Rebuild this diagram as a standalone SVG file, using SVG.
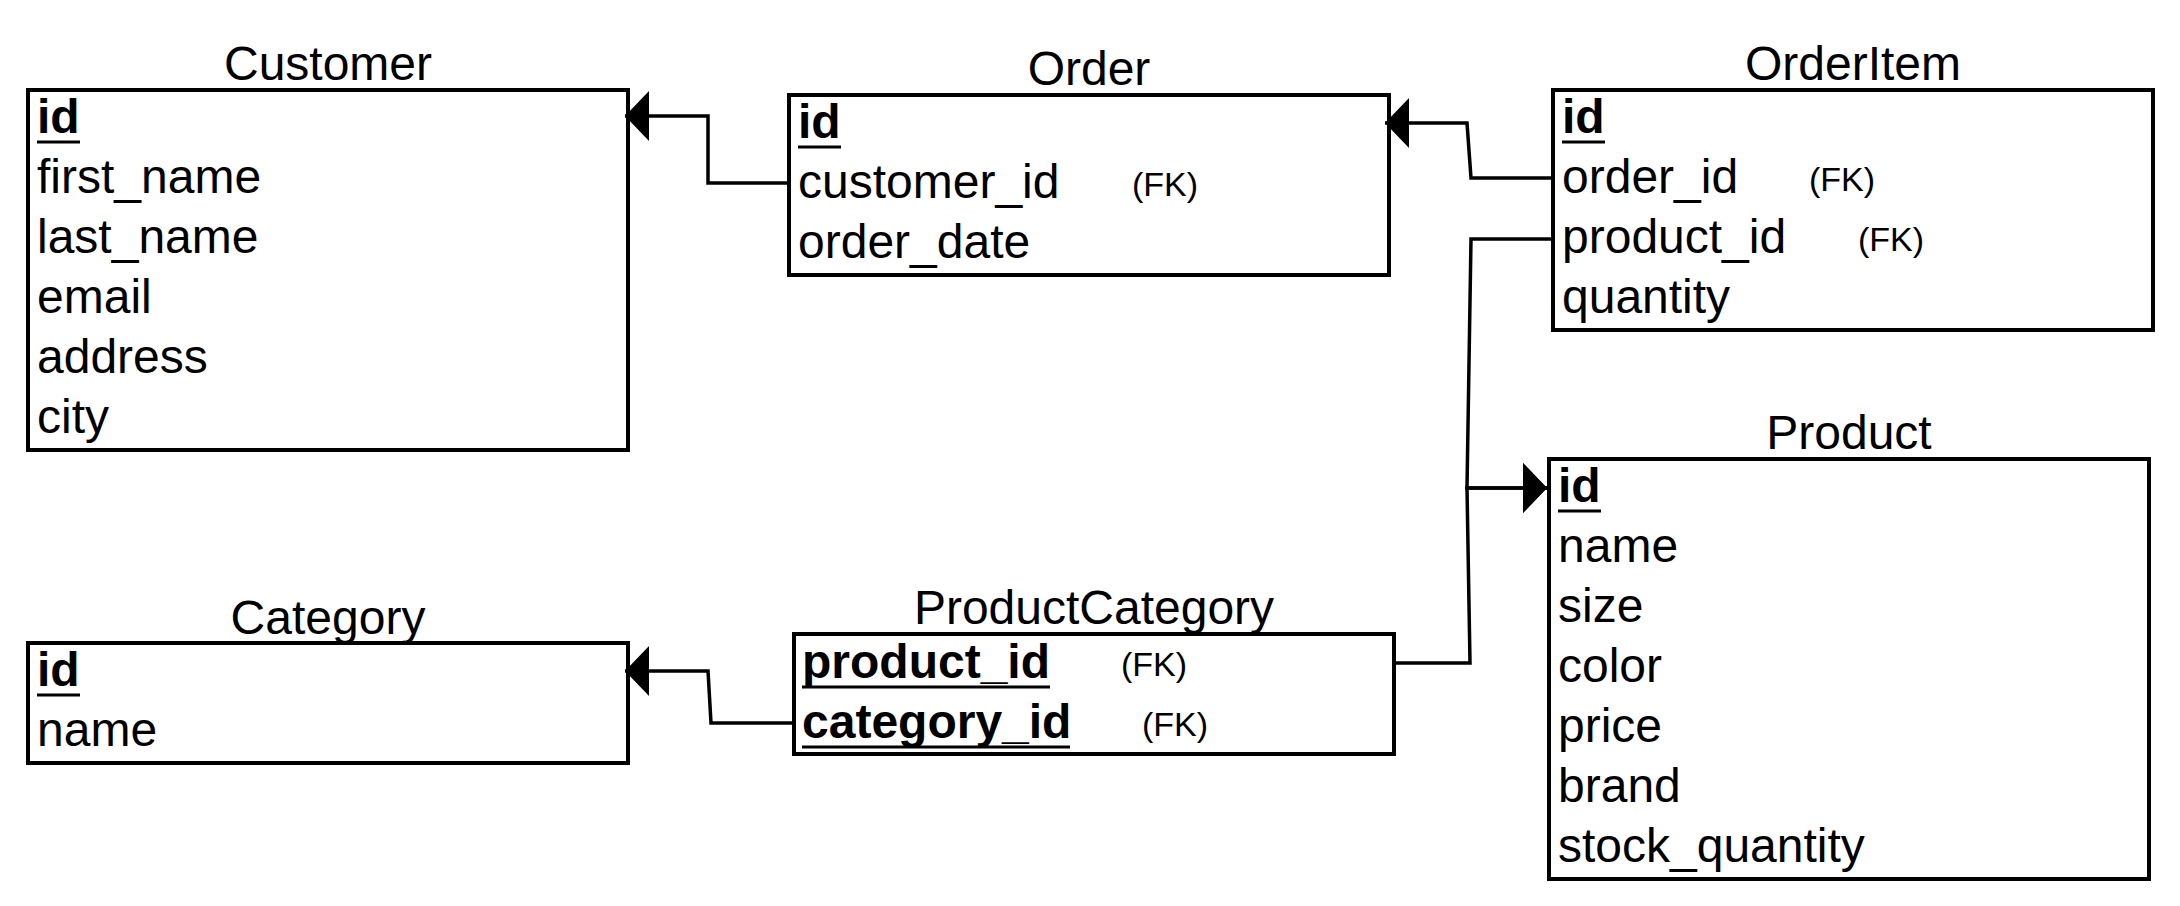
<svg xmlns="http://www.w3.org/2000/svg" width="2180" height="906" viewBox="0 0 2180 906">
<style>
.box{fill:#fff;stroke:#000;stroke-width:4}
.t{font-family:"Liberation Sans",Arial,Helvetica,sans-serif;font-size:48px;fill:#000}
.title{text-anchor:middle}
.pk{font-weight:bold}
.fk{font-family:"Liberation Sans",Arial,Helvetica,sans-serif;font-size:34px;fill:#000}
.ul{stroke:#000;stroke-width:3}
.conn{fill:none;stroke:#000;stroke-width:3.5;marker-end:url(#arr)}
</style>
<defs>
<marker id="arr" markerUnits="userSpaceOnUse" markerWidth="26" markerHeight="52" refX="24" refY="25" orient="auto">
<path d="M0,0 L24,25 L0,50 Z" fill="#000"/>
</marker>
</defs>
<rect width="2180" height="906" fill="#fff"/>

<g id="Customer">
<text class="t title" x="328" y="80">Customer</text>
<rect class="box" x="28" y="90" width="600" height="360"/>
<text class="t pk" x="37" y="133">id</text>
<line class="ul" x1="37" y1="142" x2="80" y2="142"/>
<text class="t" x="37" y="193">first_name</text>
<text class="t" x="37" y="253">last_name</text>
<text class="t" x="37" y="313">email</text>
<text class="t" x="37" y="373">address</text>
<text class="t" x="37" y="433">city</text>
</g>

<g id="Order">
<text class="t title" x="1089" y="85">Order</text>
<rect class="box" x="789" y="95" width="600" height="180"/>
<text class="t pk" x="798" y="138">id</text>
<line class="ul" x1="798" y1="147" x2="841" y2="147"/>
<text class="t" x="798" y="198">customer_id</text>
<text class="fk" x="1132" y="196">(FK)</text>
<text class="t" x="798" y="258">order_date</text>
</g>

<g id="OrderItem">
<text class="t title" x="1853" y="80">OrderItem</text>
<rect class="box" x="1553" y="90" width="600" height="240"/>
<text class="t pk" x="1562" y="133">id</text>
<line class="ul" x1="1562" y1="142" x2="1605" y2="142"/>
<text class="t" x="1562" y="193">order_id</text>
<text class="fk" x="1809" y="191">(FK)</text>
<text class="t" x="1562" y="253">product_id</text>
<text class="fk" x="1858" y="251">(FK)</text>
<text class="t" x="1562" y="313">quantity</text>
</g>

<g id="Product">
<text class="t title" x="1849" y="449">Product</text>
<rect class="box" x="1549" y="459" width="600" height="420"/>
<text class="t pk" x="1558" y="502">id</text>
<line class="ul" x1="1558" y1="511" x2="1601" y2="511"/>
<text class="t" x="1558" y="562">name</text>
<text class="t" x="1558" y="622">size</text>
<text class="t" x="1558" y="682">color</text>
<text class="t" x="1558" y="742">price</text>
<text class="t" x="1558" y="802">brand</text>
<text class="t" x="1558" y="862">stock_quantity</text>
</g>

<g id="Category">
<text class="t title" x="328" y="634">Category</text>
<rect class="box" x="28" y="643" width="600" height="120"/>
<text class="t pk" x="37" y="686">id</text>
<line class="ul" x1="37" y1="695" x2="80" y2="695"/>
<text class="t" x="37" y="746">name</text>
</g>

<g id="ProductCategory">
<text class="t title" x="1094" y="624">ProductCategory</text>
<rect class="box" x="794" y="634" width="600" height="120"/>
<text class="t pk" x="802" y="678">product_id</text>
<line class="ul" x1="802" y1="687" x2="1050" y2="687"/>
<text class="fk" x="1121" y="676">(FK)</text>
<text class="t pk" x="802" y="738">category_id</text>
<line class="ul" x1="802" y1="747" x2="1070" y2="747"/>
<text class="fk" x="1142" y="736">(FK)</text>
</g>

<g id="connectors">
<path class="conn" d="M789,183 H708 V116 H625"/>
<path class="conn" d="M1553,178 H1471 L1467,123 H1385"/>
<path class="conn" d="M1553,239 H1471 L1467,488 H1547"/>
<path class="conn" d="M1394,663 H1470 L1467,488 H1547"/>
<path class="conn" d="M794,723 H711 L708,671 H625"/>
</g>
</svg>
